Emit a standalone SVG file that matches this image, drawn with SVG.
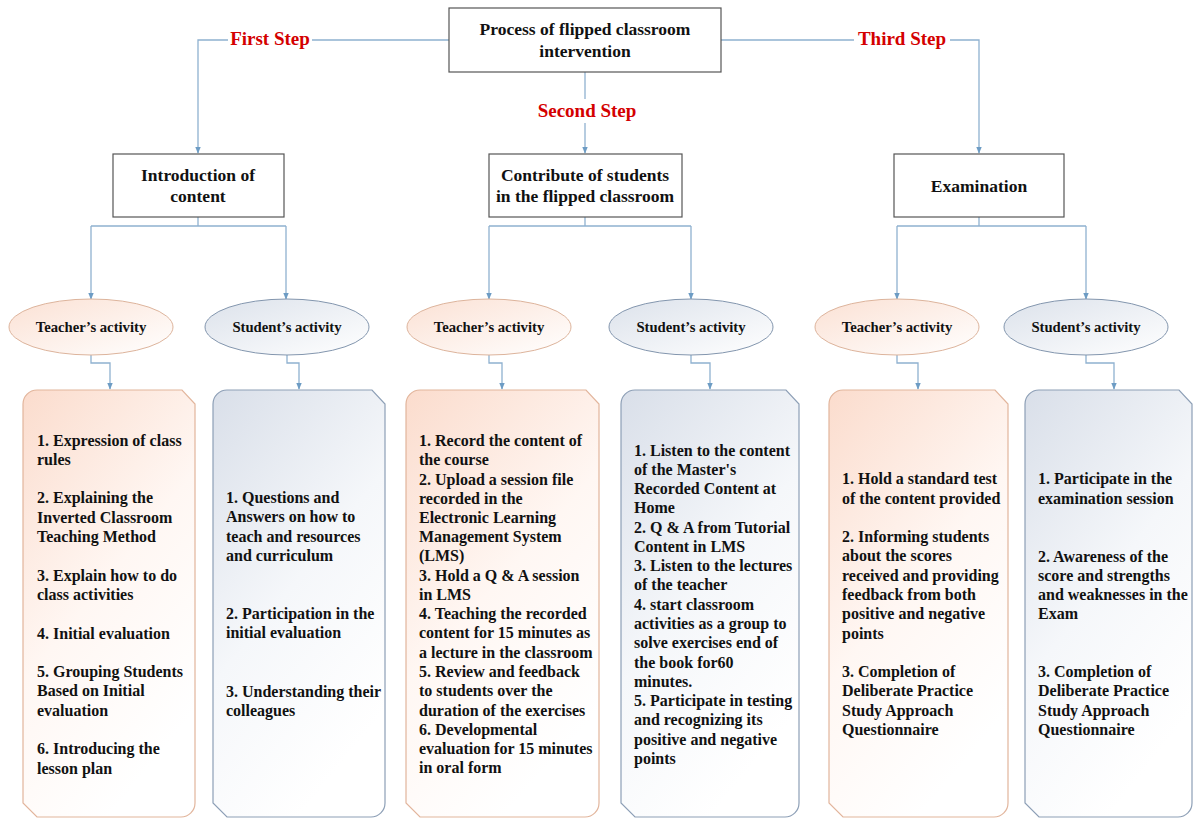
<svg xmlns="http://www.w3.org/2000/svg" width="1194" height="819" viewBox="0 0 1194 819">
<defs>
<linearGradient id="gT" x1="0" y1="0" x2="0.5" y2="1">
<stop offset="0" stop-color="#fbdccd"/><stop offset="0.55" stop-color="#fff7f3"/><stop offset="1" stop-color="#ffffff"/>
</linearGradient>
<linearGradient id="gS" x1="0" y1="0" x2="0.5" y2="1">
<stop offset="0" stop-color="#d9dfe9"/><stop offset="0.55" stop-color="#f5f7fa"/><stop offset="1" stop-color="#ffffff"/>
</linearGradient>
<linearGradient id="eT" x1="0" y1="0" x2="1" y2="1">
<stop offset="0" stop-color="#fbe1d4"/><stop offset="1" stop-color="#ffffff"/>
</linearGradient>
<linearGradient id="eS" x1="0" y1="0" x2="1" y2="1">
<stop offset="0" stop-color="#dce2eb"/><stop offset="1" stop-color="#ffffff"/>
</linearGradient>
<marker id="arr" viewBox="0 0 10 10" refX="9" refY="5" markerWidth="7" markerHeight="7" markerUnits="userSpaceOnUse" orient="auto">
<path d="M0,1 L10,5 L0,9 Z" fill="#6d9cc4"/>
</marker>
</defs>
<style>
.box{fill:#ffffff;stroke:#555555;stroke-width:1.2}
.ttl{font-family:"Liberation Serif","Times New Roman",serif;font-weight:bold;font-size:17.5px;fill:#111;text-anchor:middle}
.step{font-family:"Liberation Serif","Times New Roman",serif;font-weight:bold;font-size:19px;fill:#d40000;text-anchor:middle}
.ell{font-family:"Liberation Serif","Times New Roman",serif;font-weight:bold;font-size:14.7px;fill:#111;text-anchor:middle}
.item{font-family:"Liberation Serif","Times New Roman",serif;font-weight:bold;font-size:16px;fill:#111}
.ct{fill:url(#gT);stroke:#e2b59c;stroke-width:1.2}
.cs{fill:url(#gS);stroke:#8d9fb6;stroke-width:1.2}
.et{fill:url(#eT);stroke:#ddb49c;stroke-width:1}
.es{fill:url(#eS);stroke:#8396ae;stroke-width:1}
.con{fill:none;stroke:#8fb1d0;stroke-width:1.3}
.cona{fill:none;stroke:#8fb1d0;stroke-width:1.3;marker-end:url(#arr)}
</style>

<g id="connectors">
<path class="cona" d="M449,40 H198 V153"/>
<path class="cona" d="M721,40 H979 V153"/>
<path class="cona" d="M585,72 V153"/>
<path class="con" d="M198,217 V226 H91 M198,226 H286"/>
<path class="cona" d="M91,226 V299"/>
<path class="cona" d="M286,226 V299"/>
<path class="con" d="M585,217 V226 H489 M585,226 H691"/>
<path class="cona" d="M489,226 V299"/>
<path class="cona" d="M691,226 V299"/>
<path class="con" d="M979,217 V226 H897 M979,226 H1086"/>
<path class="cona" d="M897,226 V299"/>
<path class="cona" d="M1086,226 V299"/>
<path class="cona" d="M91,355 V363 H110 V389"/>
<path class="cona" d="M287,355 V363 H299 V389"/>
<path class="cona" d="M489,355 V363 H502 V389"/>
<path class="cona" d="M691,355 V363 H710 V389"/>
<path class="cona" d="M897,355 V363 H918 V389"/>
<path class="cona" d="M1086,355 V363 H1114 V389"/>
</g>

<g id="step-labels">
<rect x="228" y="28" width="84" height="22" fill="#ffffff"/>
<text class="step" x="270" y="45">First Step</text>
<rect x="533" y="99" width="108" height="24" fill="#ffffff"/>
<text class="step" x="587" y="117">Second Step</text>
<rect x="854" y="28" width="96" height="22" fill="#ffffff"/>
<text class="step" x="902" y="45">Third Step</text>
</g>

<g id="root">
<rect class="box" x="449" y="8" width="272" height="64"/>
<text class="ttl" x="585" y="35">Process of flipped classroom</text>
<text class="ttl" x="585" y="57">intervention</text>
</g>

<g id="step1">
<rect class="box" x="113" y="154" width="171" height="63"/>
<text class="ttl" x="198" y="181">Introduction of</text>
<text class="ttl" x="198" y="202">content</text>
</g>
<g id="step2">
<rect class="box" x="489" y="154" width="193" height="63"/>
<text class="ttl" x="585" y="181">Contribute of students</text>
<text class="ttl" x="585" y="202">in the flipped classroom</text>
</g>
<g id="step3">
<rect class="box" x="894" y="154" width="170" height="63"/>
<text class="ttl" x="979" y="192">Examination</text>
</g>

<g id="e-teacher1"><ellipse class="et" cx="91" cy="327" rx="82" ry="28"/><text class="ell" x="91" y="332">Teacher’s activity</text></g>
<g id="e-student1"><ellipse class="es" cx="287" cy="327" rx="82" ry="28"/><text class="ell" x="287" y="332">Student’s activity</text></g>
<g id="e-teacher2"><ellipse class="et" cx="489" cy="327" rx="82" ry="28"/><text class="ell" x="489" y="332">Teacher’s activity</text></g>
<g id="e-student2"><ellipse class="es" cx="691" cy="327" rx="82" ry="28"/><text class="ell" x="691" y="332">Student’s activity</text></g>
<g id="e-teacher3"><ellipse class="et" cx="897" cy="327" rx="82" ry="28"/><text class="ell" x="897" y="332">Teacher’s activity</text></g>
<g id="e-student3"><ellipse class="es" cx="1086" cy="327" rx="82" ry="28"/><text class="ell" x="1086" y="332">Student’s activity</text></g>

<g id="list-teacher1">
<path class="ct" d="M37,390 H182 L195,404 V803 A14,14 0 0 1 181,817 H37 L23,803 V404 A14,14 0 0 1 37,390 Z"/>
<text class="item" x="37" y="446">1. Expression of class</text>
<text class="item" x="37" y="465">rules</text>
<text class="item" x="37" y="503">2. Explaining the</text>
<text class="item" x="37" y="523">Inverted Classroom</text>
<text class="item" x="37" y="542">Teaching Method</text>
<text class="item" x="37" y="581">3. Explain how to do</text>
<text class="item" x="37" y="600">class activities</text>
<text class="item" x="37" y="639">4. Initial evaluation</text>
<text class="item" x="37" y="677">5. Grouping Students</text>
<text class="item" x="37" y="696">Based on Initial</text>
<text class="item" x="37" y="716">evaluation</text>
<text class="item" x="37" y="754">6. Introducing the</text>
<text class="item" x="37" y="774">lesson plan</text>
</g>

<g id="list-student1">
<path class="cs" d="M227,390 H372 L385,404 V803 A14,14 0 0 1 371,817 H227 L213,803 V404 A14,14 0 0 1 227,390 Z"/>
<text class="item" x="226" y="503">1. Questions and</text>
<text class="item" x="226" y="522">Answers on how to</text>
<text class="item" x="226" y="542">teach and resources</text>
<text class="item" x="226" y="561">and curriculum</text>
<text class="item" x="226" y="619">2. Participation in the</text>
<text class="item" x="226" y="638">initial evaluation</text>
<text class="item" x="226" y="697">3. Understanding their</text>
<text class="item" x="226" y="716">colleagues</text>
</g>

<g id="list-teacher2">
<path class="ct" d="M420,390 H586 L599,404 V803 A14,14 0 0 1 585,817 H420 L406,803 V404 A14,14 0 0 1 420,390 Z"/>
<text class="item" x="419" y="446">1. Record the content of</text>
<text class="item" x="419" y="465">the course</text>
<text class="item" x="419" y="485">2. Upload a session file</text>
<text class="item" x="419" y="504">recorded in the</text>
<text class="item" x="419" y="523">Electronic Learning</text>
<text class="item" x="419" y="542">Management System</text>
<text class="item" x="419" y="561">(LMS)</text>
<text class="item" x="419" y="581">3. Hold a Q &amp; A session</text>
<text class="item" x="419" y="600">in LMS</text>
<text class="item" x="419" y="619">4. Teaching the recorded</text>
<text class="item" x="419" y="638">content for 15 minutes as</text>
<text class="item" x="419" y="658">a lecture in the classroom</text>
<text class="item" x="419" y="677">5. Review and feedback</text>
<text class="item" x="419" y="696">to students over the</text>
<text class="item" x="419" y="716">duration of the exercises</text>
<text class="item" x="419" y="735">6. Developmental</text>
<text class="item" x="419" y="754">evaluation for 15 minutes</text>
<text class="item" x="419" y="773">in oral form</text>
</g>

<g id="list-student2">
<path class="cs" d="M635,390 H786 L799,404 V803 A14,14 0 0 1 785,817 H635 L621,803 V404 A14,14 0 0 1 635,390 Z"/>
<text class="item" x="634" y="456">1. Listen to the content</text>
<text class="item" x="634" y="475">of the Master's</text>
<text class="item" x="634" y="494">Recorded Content at</text>
<text class="item" x="634" y="513">Home</text>
<text class="item" x="634" y="533">2. Q &amp; A from Tutorial</text>
<text class="item" x="634" y="552">Content in LMS</text>
<text class="item" x="634" y="571">3. Listen to the lectures</text>
<text class="item" x="634" y="590">of the teacher</text>
<text class="item" x="634" y="610">4. start classroom</text>
<text class="item" x="634" y="629">activities as a group to</text>
<text class="item" x="634" y="648">solve exercises end of</text>
<text class="item" x="634" y="668">the book for60</text>
<text class="item" x="634" y="687">minutes.</text>
<text class="item" x="634" y="706">5. Participate in testing</text>
<text class="item" x="634" y="725">and recognizing its</text>
<text class="item" x="634" y="745">positive and negative</text>
<text class="item" x="634" y="764">points</text>
</g>

<g id="list-teacher3">
<path class="ct" d="M843,390 H995 L1008,404 V803 A14,14 0 0 1 994,817 H843 L829,803 V404 A14,14 0 0 1 843,390 Z"/>
<text class="item" x="842" y="484">1. Hold a standard test</text>
<text class="item" x="842" y="504">of the content provided</text>
<text class="item" x="842" y="542">2. Informing students</text>
<text class="item" x="842" y="561">about the scores</text>
<text class="item" x="842" y="581">received and providing</text>
<text class="item" x="842" y="600">feedback from both</text>
<text class="item" x="842" y="619">positive and negative</text>
<text class="item" x="842" y="639">points</text>
<text class="item" x="842" y="677">3. Completion of</text>
<text class="item" x="842" y="696">Deliberate Practice</text>
<text class="item" x="842" y="716">Study Approach</text>
<text class="item" x="842" y="735">Questionnaire</text>
</g>

<g id="list-student3">
<path class="cs" d="M1039,390 H1179 L1192,404 V803 A14,14 0 0 1 1178,817 H1039 L1025,803 V404 A14,14 0 0 1 1039,390 Z"/>
<text class="item" x="1038" y="484">1. Participate in the</text>
<text class="item" x="1038" y="504">examination session</text>
<text class="item" x="1038" y="562">2. Awareness of the</text>
<text class="item" x="1038" y="581">score and strengths</text>
<text class="item" x="1038" y="600">and weaknesses in the</text>
<text class="item" x="1038" y="619">Exam</text>
<text class="item" x="1038" y="677">3. Completion of</text>
<text class="item" x="1038" y="696">Deliberate Practice</text>
<text class="item" x="1038" y="716">Study Approach</text>
<text class="item" x="1038" y="735">Questionnaire</text>
</g>
</svg>
